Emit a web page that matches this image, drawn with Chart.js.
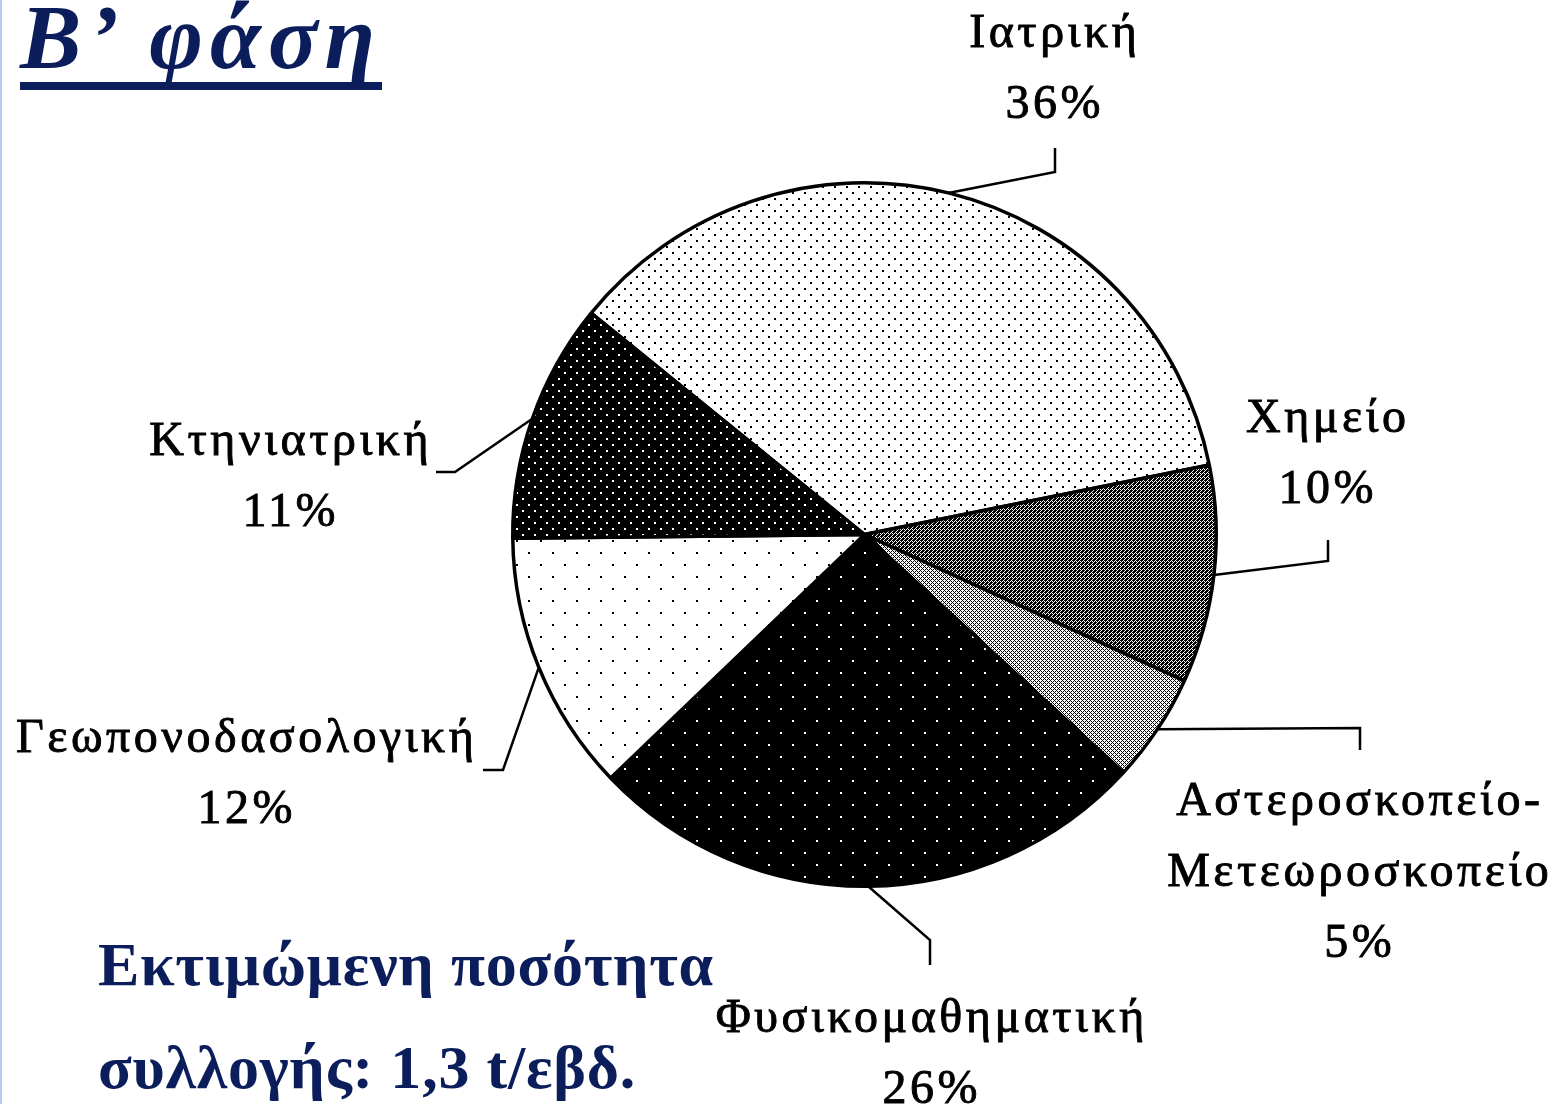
<!DOCTYPE html>
<html>
<head>
<meta charset="utf-8">
<script src="https://cdn.jsdelivr.net/npm/chart.js@4.4.1/dist/chart.umd.min.js"></script>
<style>
  html, body { margin: 0; padding: 0; background: #fff; }
  #wrap { position: relative; width: 1566px; height: 1104px; overflow: hidden; }
  #edge { position: absolute; left: 0; top: 0; width: 2px; height: 1104px; background: #b4cdf0; }
  #title {
    position: absolute; left: 20px; top: -9px; margin: 0;
    font: italic bold 92px "Liberation Serif", serif; line-height: 92px;
    letter-spacing: 7px;
    color: #0b1d5b; white-space: nowrap;
    text-decoration: underline; text-decoration-thickness: 8px; text-underline-offset: 14px;
    text-decoration-skip-ink: none;
  }
  #note {
    position: absolute; left: 98px; top: 913px; margin: 0;
    font: bold 62px "Liberation Serif", serif; line-height: 103px;
    letter-spacing: 0.8px;
    color: #0b1d5b; white-space: nowrap;
  }
  canvas { position: absolute; left: 0; top: 0; }
</style>
</head>
<body>
<div id="wrap">
  <canvas id="pie" width="1566" height="1104"></canvas>
  <div id="edge"></div>
  <h1 id="title">Β’ φάση</h1>
  <div id="note">Εκτιμώμενη ποσότητα<br>συλλογής: 1,3 t/εβδ.</div>
</div>
<script>
// categories, clockwise from the Ιατρική slice
var categories = ['Ιατρική', 'Χημείο', 'Αστεροσκοπείο-\nΜετεωροσκοπείο', 'Φυσικομαθηματική', 'Γεωπονοδασολογική', 'Κτηνιατρική'];
var shares = [36, 10, 5, 26, 12, 11];

// where each label sits (first line centre x, first baseline) and the bend of its leader line
var labelSpots = [
  { x: 1053, y: 47,  bend: [1055, 172], end: [1055, 148] },
  { x: 1326, y: 432, bend: [1328, 561], end: [1328, 540] },
  { x: 1358, y: 815, bend: [1360, 728], end: [1360, 750] },
  { x: 930,  y: 1032, bend: [930, 940], end: [930, 965] },
  { x: 245,  y: 752, bend: [503, 770], end: [483, 770] },
  { x: 289,  y: 455, bend: [455, 472], end: [436, 472] }
];
var lineStep = 71;
var spacing = 3.5;

var canvas = document.getElementById('pie');
var ctx = canvas.getContext('2d');

function makePattern(w, h, bg, fg, pts, size) {
  var c = document.createElement('canvas');
  c.width = w; c.height = h;
  var p = c.getContext('2d');
  p.fillStyle = bg;
  p.fillRect(0, 0, w, h);
  p.fillStyle = fg;
  pts.forEach(function(d) { p.fillRect(d[0], d[1], size, size); });
  return ctx.createPattern(c, 'repeat');
}

var fills = [
  makePattern(12, 12, '#fff', '#000', [[0, 0], [6, 6]], 2),                                   // Ιατρική
  makePattern(4, 4, '#000', '#fff', [[3, 0], [0, 1], [2, 1], [1, 2], [0, 3]], 1),             // Χημείο
  makePattern(4, 4, '#fff', '#000', [[2, 0], [1, 1], [3, 1], [0, 2], [1, 3], [3, 3]], 1),     // Αστεροσκοπείο
  makePattern(24, 24, '#000', '#fff', [[0, 0], [12, 12]], 2),                                 // Φυσικομαθηματική
  makePattern(24, 24, '#fff', '#000', [[0, 0], [12, 12]], 2),                                 // Γεωπονοδασολογική
  makePattern(12, 12, '#000', '#fff', [[0, 0], [6, 6]], 2)                                    // Κτηνιατρική
];

var calloutPlugin = {
  id: 'callouts',
  afterDraw: function(chart) {
    var meta = chart.getDatasetMeta(0);
    var c = chart.ctx;
    c.save();
    c.strokeStyle = '#000';
    c.fillStyle = '#000';
    c.font = '48px "Liberation Serif", serif';
    c.letterSpacing = spacing + 'px';
    c.textAlign = 'center';
    c.textBaseline = 'alphabetic';
    meta.data.forEach(function(arc, i) {
      var spot = labelSpots[i];
      var mid = (arc.startAngle + arc.endAngle) / 2;
      var sx = arc.x + Math.cos(mid) * arc.outerRadius;
      var sy = arc.y + Math.sin(mid) * arc.outerRadius;
      c.lineWidth = 2.5;
      c.beginPath();
      c.moveTo(sx, sy);
      c.lineTo(spot.bend[0], spot.bend[1]);
      c.lineTo(spot.end[0], spot.end[1]);
      c.stroke();
      var lines = categories[i].split('\n');
      lines.push(shares[i] + '%');
      c.lineWidth = 0.9;
      lines.forEach(function(t, k) {
        // letter spacing is added after the last glyph too, so nudge right by half of it
        var tx = spot.x + spacing / 2;
        var ty = spot.y + k * lineStep;
        c.fillText(t, tx, ty);
        c.strokeText(t, tx, ty);
      });
    });
    c.restore();
  }
};

new Chart(ctx, {
  type: 'pie',
  data: {
    labels: categories,
    datasets: [{
      data: shares,
      backgroundColor: fills,
      borderColor: '#000',
      borderWidth: 3.5
    }]
  },
  options: {
    responsive: false,
    animation: false,
    devicePixelRatio: 1,
    rotation: -51,
    layout: { padding: { left: 511, right: 348, top: 181, bottom: 216 } },
    plugins: {
      legend: { display: false },
      tooltip: { enabled: false }
    }
  },
  plugins: [calloutPlugin]
});
</script>
</body>
</html>
